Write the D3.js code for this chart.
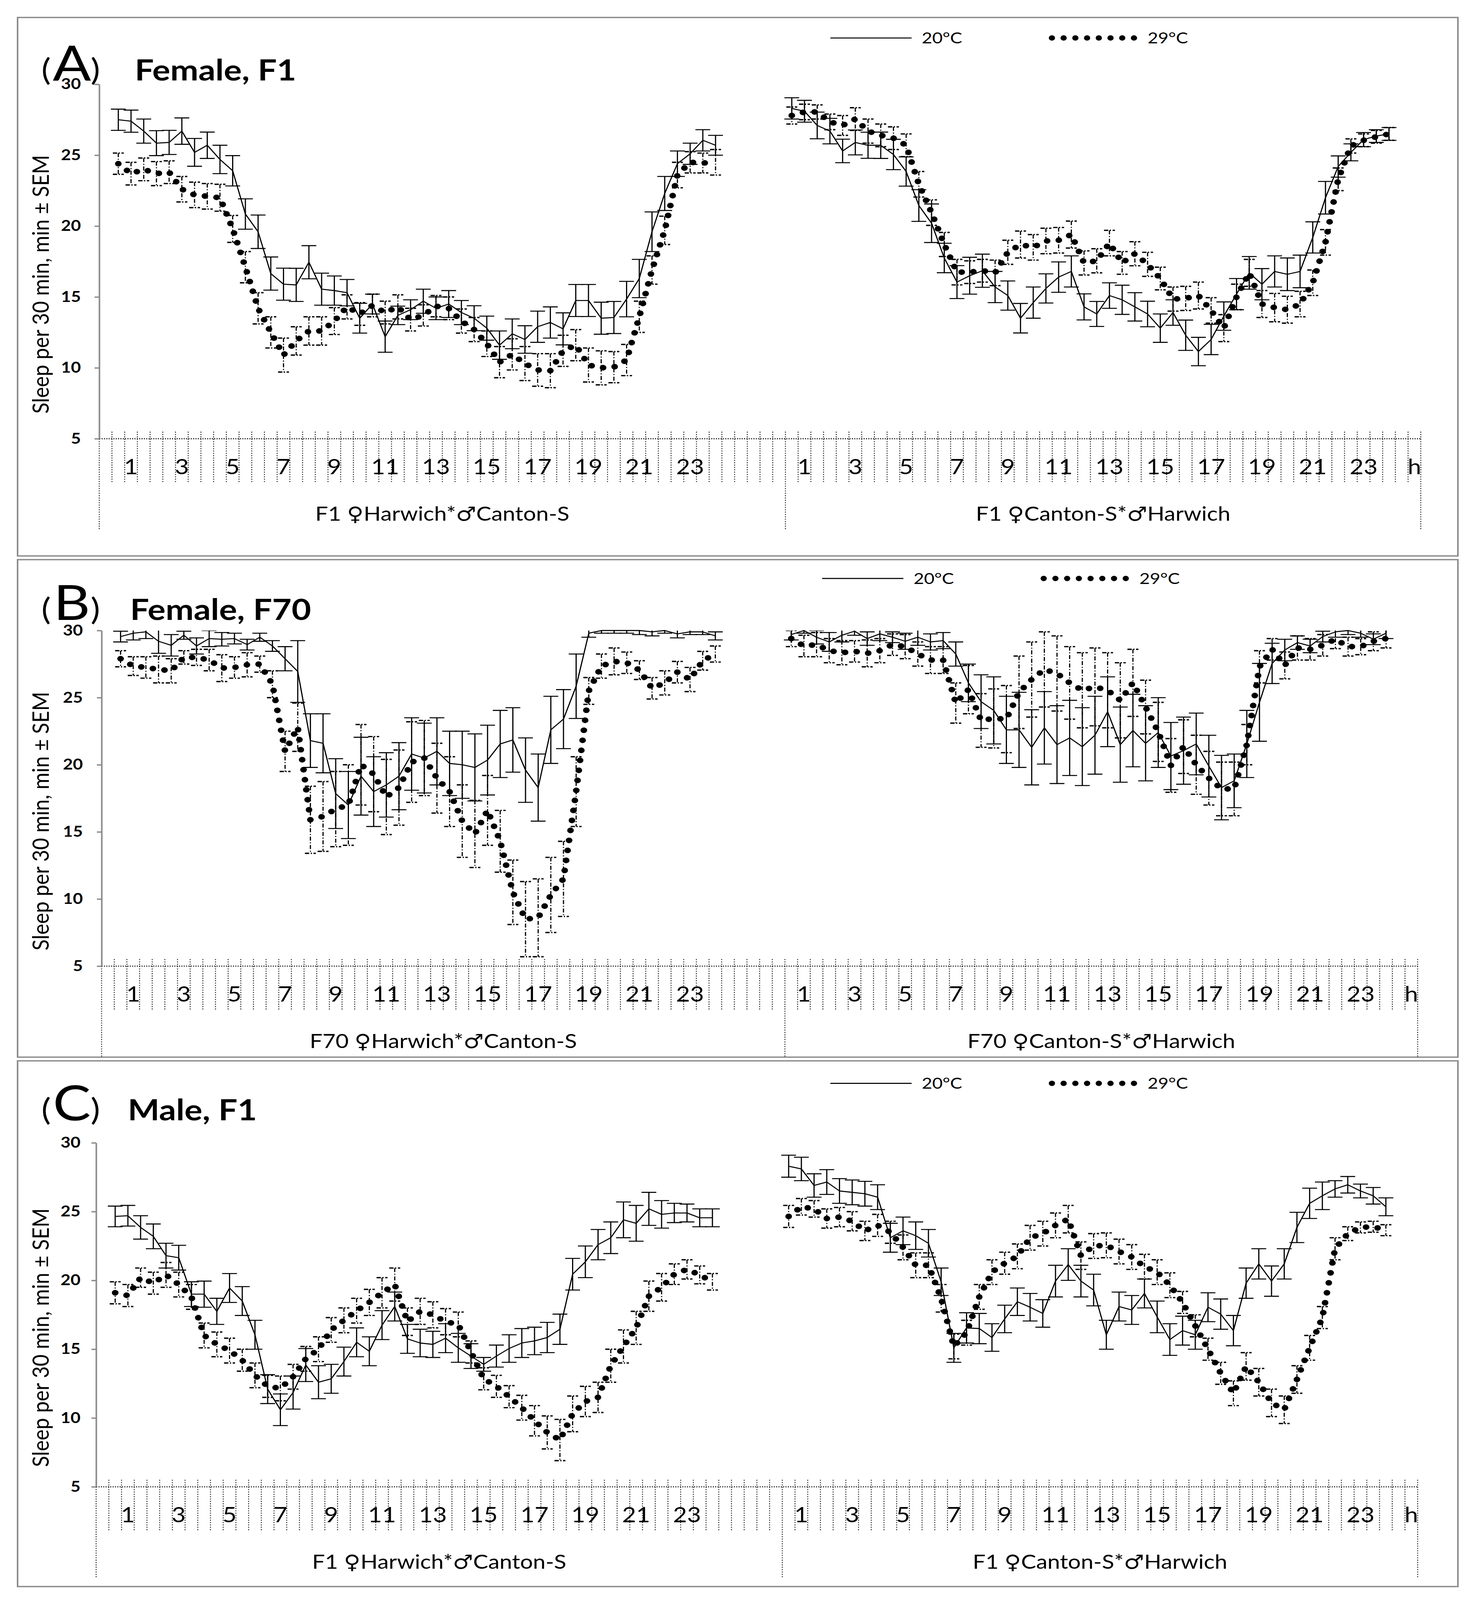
<!DOCTYPE html>
<html lang="en">
<head>
<meta charset="utf-8">
<script src="https://cdn.jsdelivr.net/npm/d3@7"></script>
<style>
  html, body { margin: 0; padding: 0; background: #fff; overflow: hidden; }
  svg { display: block; }
  text { font-family: Lato, "Noto Sans", "DejaVu Sans", sans-serif; }
</style>
</head>
<body>
<script>
// ---- data (sleep per 30 min, mean and SEM, 48 half-hour bins) ----
var panelLetters = ["A", "B", "C"];
var panelTitles = ["Female, F1", "Female, F70", "Male, F1"];
var leftGroupLabels = ["F1 \u2640Harwich*\u2642Canton-S", "F70 \u2640Harwich*\u2642Canton-S", "F1 \u2640Harwich*\u2642Canton-S"];
var rightGroupLabels = ["F1 \u2640Canton-S*\u2642Harwich", "F70 \u2640Canton-S*\u2642Harwich", "F1 \u2640Canton-S*\u2642Harwich"];
var hourLabels = ["1","3","5","7","9","11","13","15","17","19","21","23"];
var endLabel = "h";
var yTicks = [5, 10, 15, 20, 25, 30];
var legendLabels = ["20\u00b0C", "29\u00b0C"];

// panel A
var aLeft20 = [27.5,27.4,26.7,25.85,25.9,26.7,25.2,25.7,24.7,23.9,20.85,19.6,16.65,15.9,15.85,17.45,15.55,15.45,15.3,13.5,14.5,12.2,13.7,14.1,14.7,14.2,14.5,13.9,13.5,12.8,11.6,12.4,12.0,12.9,13.2,12.75,14.75,14.75,13.5,13.55,14.85,16.3,19.6,22.3,24.4,25.1,26.05,25.7];
var aLeft20sem = [0.75,0.78,0.85,0.88,0.85,0.93,0.98,0.93,1.0,1.07,1.07,1.18,1.17,1.13,1.17,1.17,1.13,1.03,0.93,1.05,0.7,1.1,0.65,0.7,0.85,0.8,0.95,0.85,0.88,0.85,1.0,1.05,0.97,1.1,1.1,1.13,1.13,1.13,1.13,1.13,1.25,1.35,1.4,1.2,0.9,0.75,0.75,0.7];
var aLeft29 = [24.4,23.7,24.0,23.7,23.8,22.6,22.2,22.1,22.0,19.8,17.1,14.2,12.5,10.9,11.9,12.6,12.6,13.3,14.3,13.8,14.4,13.9,14.3,13.4,13.7,14.35,14.2,13.3,12.7,11.7,10.4,10.95,10.3,9.85,9.8,11.2,11.6,10.2,10.0,10.05,10.55,13.6,16.9,19.7,23.6,24.5,24.45,24.5];
var aLeft29sem = [0.75,0.8,0.8,0.85,0.8,0.9,0.9,0.9,0.95,0.95,1.1,1.1,1.1,1.2,1.0,1.0,1.0,0.95,0.85,0.8,0.8,0.8,0.85,0.8,0.75,0.75,0.8,0.85,0.85,0.9,1.1,1.1,1.2,1.15,1.2,1.1,1.1,1.2,1.2,1.1,1.1,1.1,1.0,1.0,0.9,0.75,0.7,0.9];
var aRight20 = [28.3,28.1,27.1,26.7,25.3,25.9,25.7,25.7,25.05,23.85,21.45,20.2,17.75,16.05,16.5,16.85,15.7,15.1,13.5,14.6,15.6,16.4,16.8,14.3,13.8,15.1,14.8,14.3,13.8,12.8,13.9,12.3,11.15,12.0,13.65,15.2,16.7,15.9,16.8,16.6,16.8,19.2,22.0,24.2,25.2,26.1,26.35,26.5];
var aRight20sem = [0.75,0.77,0.94,0.9,0.83,0.88,0.92,0.93,1.07,1.03,1.12,1.36,1.04,1.16,1.3,1.17,1.1,1.03,1.04,1.1,1.03,1.07,1.1,0.92,0.88,0.9,1.03,1.0,0.9,1.0,0.9,1.07,1.0,1.07,1.0,1.1,1.15,1.1,1.1,1.15,1.15,1.1,1.15,0.75,0.6,0.5,0.45,0.45];
var aRight29 = [27.8,28.05,28.05,27.35,27.1,27.55,26.7,26.4,26.2,25.7,22.95,20.95,18.7,16.75,16.75,16.85,16.7,18.15,18.7,18.5,18.95,19.0,19.4,17.4,17.55,18.8,17.4,18.05,17.3,16.3,14.85,14.9,15.1,14.05,12.8,15.0,16.7,14.5,14.25,14.1,14.5,16.0,18.85,23.3,25.65,26.05,26.3,26.5];
var aRight29sem = [0.6,0.55,0.5,0.55,0.7,0.8,0.85,0.8,0.8,0.8,0.9,0.9,0.85,0.9,0.8,0.8,0.9,0.85,0.95,0.9,0.9,0.9,0.95,0.85,0.85,0.9,0.8,0.85,0.85,0.8,0.85,0.85,0.95,0.9,0.95,0.9,0.95,0.95,1.0,0.95,0.9,0.9,0.9,0.8,0.5,0.45,0.45,0.45];

// panel B
var bLeft20 = [29.55,29.8,29.9,29.2,28.9,29.65,28.85,29.4,29.35,29.4,28.95,29.5,28.85,27.9,26.95,21.8,21.6,17.85,17.0,19.15,18.0,18.5,19.15,20.8,20.5,21.0,20.1,20.0,19.8,20.35,21.55,21.85,19.6,18.3,22.6,23.4,25.85,29.8,30.0,30.0,30.0,30.0,29.9,30.0,29.75,29.9,29.9,29.6];
var bLeft20sem = [0.4,0.5,0.5,0.9,0.8,0.3,0.6,0.6,0.5,0.4,0.4,0.3,0.4,0.9,2.3,2.0,2.2,2.6,2.5,2.9,2.6,2.4,2.5,2.7,2.6,2.5,2.4,2.5,2.5,2.6,2.5,2.4,2.4,2.5,2.5,2.2,2.4,0.3,0.2,0.2,0.2,0.3,0.3,0.2,0.3,0.2,0.2,0.3];
var bLeft29 = [27.9,27.35,27.25,27.1,27.0,28.0,28.0,27.8,27.2,27.25,27.45,27.5,26.0,21.0,22.8,15.9,16.15,16.7,17.0,20.0,19.3,17.6,18.3,20.2,20.5,19.0,18.0,15.8,14.85,16.6,14.3,10.5,8.5,8.6,10.3,11.5,18.0,25.5,27.35,27.7,27.6,27.05,25.7,26.1,26.9,26.35,27.75,28.25];
var bLeft29sem = [0.6,0.7,0.8,1.0,0.9,0.5,0.6,0.8,1.0,0.8,0.9,0.6,1.0,1.5,1.8,2.5,2.6,2.8,3.0,3.0,2.8,2.8,2.8,3.0,2.8,2.6,2.6,2.7,2.5,2.6,2.3,2.4,2.8,2.9,2.8,2.8,2.6,1.0,0.9,1.0,0.8,0.7,0.8,0.9,0.8,0.9,0.7,0.6];
var bRight20 = [29.7,30.0,29.5,29.15,29.65,29.95,29.4,29.75,29.5,29.2,29.5,29.15,29.25,28.25,26.1,24.7,24.05,22.6,22.6,21.3,22.75,21.5,22.0,21.35,22.2,23.95,21.5,22.55,21.6,22.4,20.65,21.05,21.55,19.9,18.3,18.8,21.55,24.65,27.55,28.55,29.1,28.85,29.55,29.9,30.0,29.8,29.35,29.8];
var bRight20sem = [0.4,0.2,0.5,0.7,0.5,0.3,0.5,0.5,0.4,0.6,0.6,0.6,0.6,0.9,1.4,2.0,2.5,2.5,2.8,2.8,2.7,2.9,2.8,2.9,2.9,2.6,2.8,2.7,2.8,2.6,2.5,2.5,2.3,2.3,2.4,2.0,2.5,2.9,1.5,0.8,0.5,0.5,0.4,0.4,0.3,0.3,0.4,0.4];
var bRight29 = [29.4,28.85,28.95,28.5,28.35,28.45,28.3,28.5,28.95,28.8,28.25,27.8,27.8,24.6,25.6,23.3,23.45,23.4,25.4,26.35,27.1,26.8,26.1,25.55,25.8,25.55,24.8,26.1,24.3,22.45,19.95,21.35,20.0,19.0,18.2,18.2,21.5,27.3,28.6,27.4,28.7,28.6,28.9,29.35,28.8,28.8,29.2,29.4];
var bRight29sem = [0.6,0.8,0.9,0.9,0.9,0.8,1.0,0.9,0.8,0.9,0.9,1.0,1.0,1.5,1.8,2.0,2.2,2.5,2.7,2.8,2.8,2.8,2.7,2.8,2.9,2.8,2.8,2.5,2.0,2.2,2.0,2.0,2.2,2.0,2.0,2.0,1.5,1.2,0.8,1.0,0.9,0.8,0.8,0.7,0.7,0.6,0.7,0.7];

// panel C
var cLeft20 = [24.65,24.7,23.85,23.2,21.8,21.65,19.0,19.0,17.75,19.45,18.5,16.05,12.1,10.6,11.85,13.85,12.6,12.85,14.1,15.5,14.85,16.75,18.1,15.75,15.45,15.35,15.8,15.1,14.5,13.9,14.5,15.05,15.45,15.6,15.85,16.45,20.45,21.35,22.6,23.1,24.4,24.15,25.2,24.8,24.9,24.9,24.55,24.55];
var cLeft20sem = [0.75,0.75,0.85,0.9,0.9,0.9,0.9,0.95,0.95,1.05,1.05,1.05,1.05,1.15,1.2,1.2,1.2,1.05,1.05,1.05,1.05,1.05,1.05,1.05,1.0,0.95,1.05,1.05,0.9,0.5,0.8,1.0,1.05,1.0,1.1,1.1,1.15,1.15,1.1,1.15,1.3,1.3,1.2,1.0,0.7,0.65,0.65,0.65];
var cLeft29 = [19.1,18.9,20.2,19.8,20.4,19.7,18.8,16.0,15.35,14.9,14.2,13.1,12.3,12.15,13.0,14.3,15.0,16.4,17.1,17.8,18.4,19.1,19.7,17.0,17.75,17.5,17.0,16.8,14.8,12.85,12.3,11.55,10.75,9.8,8.95,8.4,10.3,11.2,11.5,13.8,15.2,16.55,18.85,19.5,20.45,20.8,20.4,19.9];
var cLeft29sem = [0.8,0.8,0.7,0.8,0.9,0.9,0.9,0.9,0.9,0.9,0.8,0.9,0.8,0.9,0.9,0.9,0.9,0.9,0.9,0.9,0.95,1.1,1.2,1.0,0.95,0.95,0.95,0.9,0.8,0.8,0.8,0.8,0.9,1.1,1.2,1.5,1.3,1.1,1.1,1.2,1.2,1.2,1.1,1.0,0.75,0.7,0.65,0.6];
var cRight20 = [28.3,28.1,26.9,27.15,26.5,26.4,26.3,26.05,23.1,23.6,23.25,22.7,19.9,15.1,16.55,16.5,15.85,17.2,18.45,18.05,17.6,19.95,21.15,19.95,19.3,16.05,18.1,17.85,19.05,17.35,15.7,16.35,16.05,18.05,17.55,16.35,19.8,21.2,19.95,21.2,23.85,25.6,26.15,26.65,26.95,26.5,26.15,25.35];
var cRight20sem = [0.8,0.85,0.85,0.9,0.9,0.9,0.9,0.9,1.05,1.0,1.0,1.0,1.0,1.05,1.1,1.1,1.0,1.0,1.0,1.0,1.0,1.15,1.15,1.15,1.15,1.05,1.05,1.05,1.05,1.15,1.15,1.05,1.05,1.05,1.1,1.1,1.1,1.1,1.1,1.1,1.1,1.1,1.0,0.6,0.6,0.5,0.6,0.65];
var cRight29 = [24.65,25.35,25.2,24.5,24.6,24.3,23.6,24.0,23.5,22.4,21.1,21.1,18.7,15.2,16.2,18.8,20.6,21.25,21.75,23.1,23.4,24.0,24.45,21.8,22.5,22.55,22.1,21.7,21.0,20.6,19.65,18.4,16.7,15.0,13.25,11.8,13.75,12.6,11.1,10.6,12.8,15.1,17.3,22.3,23.4,23.85,23.9,23.65];
var cRight29sem = [0.8,0.6,0.6,0.7,0.7,0.7,0.7,0.8,0.8,0.9,0.9,0.9,1.0,0.9,0.9,0.9,0.9,0.8,0.9,0.9,0.9,0.9,1.0,1.0,0.9,0.9,0.9,0.9,0.9,0.9,0.9,0.8,0.8,0.8,0.8,0.9,1.0,1.0,1.0,1.0,1.0,0.9,0.8,0.8,0.5,0.4,0.4,0.4];

var panelSeries = [
  [aLeft20, aLeft20sem, aLeft29, aLeft29sem, aRight20, aRight20sem, aRight29, aRight29sem],
  [bLeft20, bLeft20sem, bLeft29, bLeft29sem, bRight20, bRight20sem, bRight29, bRight29sem],
  [cLeft20, cLeft20sem, cLeft29, cLeft29sem, cRight20, cRight20sem, cRight29, cRight29sem]
];

// ---- layout ----
var W = 3785, H = 4763;
var layout = [
  {top: 52,   bottom: 1655, x0: 254, x1: 3636, y30: 251,  y5: 1306, base: 239,  titleX: 345, legX: 2125, legY: 113,  labR: 207},
  {top: 1666, bottom: 3147, x0: 260, x1: 3628, y30: 1877, y5: 2876, base: 1845, titleX: 333, legX: 2104, legY: 1722, labR: 212},
  {top: 3158, bottom: 4723, x0: 246, x1: 3628, y30: 3402, y5: 4426, base: 3335, titleX: 327, legX: 2125, legY: 3225, labR: 206}
];
var nCat = 104, splitCat = 54;

// fit the whole figure into whatever viewport the browser really has
var vw = window.innerWidth || W, vh = window.innerHeight || H;
var svg = d3.select("body").append("svg")
  .attr("width", vw).attr("height", vh)
  .attr("viewBox", "0 0 " + W + " " + H)
  .attr("preserveAspectRatio", "none")
  .style("background", "#fff");

function dotted(sel) {
  return sel.attr("fill", "none").attr("stroke", "#000")
    .attr("stroke-width", 17).attr("stroke-linecap", "round")
    .attr("stroke-dasharray", "0 30");
}

function drawSeries(g, x, y, offset, vals, sems, hot, clipId) {
  var pts = vals.map(function(v, i) { return {x: x(offset + i + 0.5), v: v, s: sems[i]}; });
  var eb = g.append("g").attr("clip-path", "url(#" + clipId + ")");
  var hw = hot ? 14 : 19;
  var bars = eb.selectAll("g").data(pts).enter().append("g");
  bars.append("line")
    .attr("x1", function(d) { return d.x; }).attr("x2", function(d) { return d.x; })
    .attr("y1", function(d) { return y(d.v + d.s); }).attr("y2", function(d) { return y(d.v - d.s); })
    .attr("stroke", "#000").attr("stroke-width", 3)
    .attr("stroke-dasharray", hot ? "12 5 3 5" : null);
  [1, -1].forEach(function(sg) {
    bars.append("line")
      .attr("x1", function(d) { return d.x - hw; }).attr("x2", function(d) { return d.x + hw; })
      .attr("y1", function(d) { return y(d.v + sg * d.s); }).attr("y2", function(d) { return y(d.v + sg * d.s); })
      .attr("stroke", "#000").attr("stroke-width", hot ? 4 : 3)
      .attr("stroke-dasharray", hot ? "11 4 3 4" : null);
  });
  var line = d3.line().x(function(d) { return d.x; }).y(function(d) { return y(d.v); });
  var p = g.append("path").datum(pts).attr("d", line);
  if (hot) dotted(p);
  else p.attr("fill", "none").attr("stroke", "#000").attr("stroke-width", 3).attr("stroke-linejoin", "round");
}

layout.forEach(function(L, pi) {
  var g = svg.append("g");
  var s = panelSeries[pi];
  g.append("rect").attr("x", 45).attr("y", L.top)
    .attr("width", 3731 - 45).attr("height", L.bottom - L.top)
    .attr("fill", "none").attr("stroke", "#8c8c8c").attr("stroke-width", 4);

  var x = d3.scaleLinear().domain([0, nCat]).range([L.x0, L.x1]);
  var y = d3.scaleLinear().domain([5, 30]).range([L.y5, L.y30]);

  var clipId = "clip" + pi;
  g.append("clipPath").attr("id", clipId).append("rect")
    .attr("x", L.x0).attr("y", L.y30).attr("width", L.x1 - L.x0).attr("height", L.y5 - L.y30 + 60);

  // category ticks and x axis
  var tk = g.append("g");
  tk.selectAll("line").data(d3.range(nCat + 1)).enter().append("line")
    .attr("x1", function(k) { return x(k); }).attr("x2", function(k) { return x(k); })
    .attr("y1", L.y5 - 21)
    .attr("y2", function(k) { return (k === 0 || k === splitCat || k === nCat) ? L.y5 + 269 : L.y5 + 131; })
    .attr("stroke", "#222").attr("stroke-width", 2.5).attr("stroke-dasharray", "3 4");
  g.append("line").attr("x1", L.x0).attr("x2", L.x1).attr("y1", L.y5).attr("y2", L.y5)
    .attr("stroke", "#222").attr("stroke-width", 3).attr("stroke-dasharray", "3 3");

  // y axis
  var ax = g.append("g").attr("transform", "translate(" + L.x0 + ",0)")
    .call(d3.axisLeft(y).tickValues(yTicks).tickSize(12).tickSizeOuter(0).tickPadding(L.x0 - L.labR - 12));
  ax.select(".domain").attr("stroke", "#8c8c8c").attr("stroke-width", 4);
  ax.selectAll(".tick line").attr("stroke", "#8c8c8c").attr("stroke-width", 4);
  ax.selectAll(".tick text").attr("font-size", 44).attr("font-weight", "bold").attr("fill", "#000")
    .attr("font-family", "Lato, 'Noto Sans', sans-serif");

  g.append("text")
    .attr("transform", "translate(103," + ((L.y30 + L.y5) / 2 + 68) + ") rotate(-90)")
    .attr("text-anchor", "middle").attr("dominant-baseline", "central")
    .attr("font-size", 58).attr("textLength", 770).attr("lengthAdjust", "spacingAndGlyphs")
    .text("Sleep per 30 min, min \u00b1 SEM");

  // hour labels
  var lab = g.append("g").attr("font-size", 62);
  lab.selectAll("text.l").data(hourLabels).enter().append("text").attr("class", "l")
    .attr("x", function(h) { return x(2 * (+h) + 0.5); }).attr("y", L.y5 + 106)
    .attr("text-anchor", "middle").text(function(h) { return h; });
  lab.selectAll("text.r").data(hourLabels.concat([endLabel])).enter().append("text").attr("class", "r")
    .attr("x", function(h) { return x(splitCat + (h === endLabel ? 49 : 2 * (+h) - 1) + 0.5); })
    .attr("y", L.y5 + 106)
    .attr("text-anchor", "middle").text(function(h) { return h; });

  g.append("text").attr("x", x(splitCat / 2)).attr("y", L.y5 + 244)
    .attr("text-anchor", "middle").attr("font-size", 58).text(leftGroupLabels[pi]);
  g.append("text").attr("x", x((splitCat + nCat) / 2)).attr("y", L.y5 + 244)
    .attr("text-anchor", "middle").attr("font-size", 58).text(rightGroupLabels[pi]);

  // series
  drawSeries(g, x, y, 1, s[0], s[1], false, clipId);
  drawSeries(g, x, y, splitCat, s[4], s[5], false, clipId);
  drawSeries(g, x, y, 1, s[2], s[3], true, clipId);
  drawSeries(g, x, y, splitCat, s[6], s[7], true, clipId);

  // title
  g.append("text").attr("x", 106).attr("y", L.base).attr("font-size", 90).text("(");
  g.append("text").attr("x", 184).attr("y", L.base).attr("font-size", 145)
    .attr("text-anchor", "middle").text(panelLetters[pi]);
  g.append("text").attr("x", 232).attr("y", L.base).attr("font-size", 90).text(")");
  g.append("text").attr("x", L.titleX).attr("y", L.base).attr("font-size", 86)
    .attr("font-weight", "bold").text(panelTitles[pi]);

  // legend
  var lg = g.append("g");
  lg.append("line").attr("x1", L.legX).attr("x2", L.legX + 208).attr("y1", L.legY).attr("y2", L.legY)
    .attr("stroke", "#000").attr("stroke-width", 3);
  lg.append("text").attr("x", L.legX + 234).attr("y", L.legY + 16).attr("font-size", 46).text(legendLabels[0]);
  dotted(lg.append("path").attr("d", "M" + (L.legX + 567) + "," + L.legY + "H" + (L.legX + 777.5)))
    .attr("stroke-width", 16);
  lg.append("text").attr("x", L.legX + 812).attr("y", L.legY + 16).attr("font-size", 46).text(legendLabels[1]);
});
</script>
</body>
</html>
